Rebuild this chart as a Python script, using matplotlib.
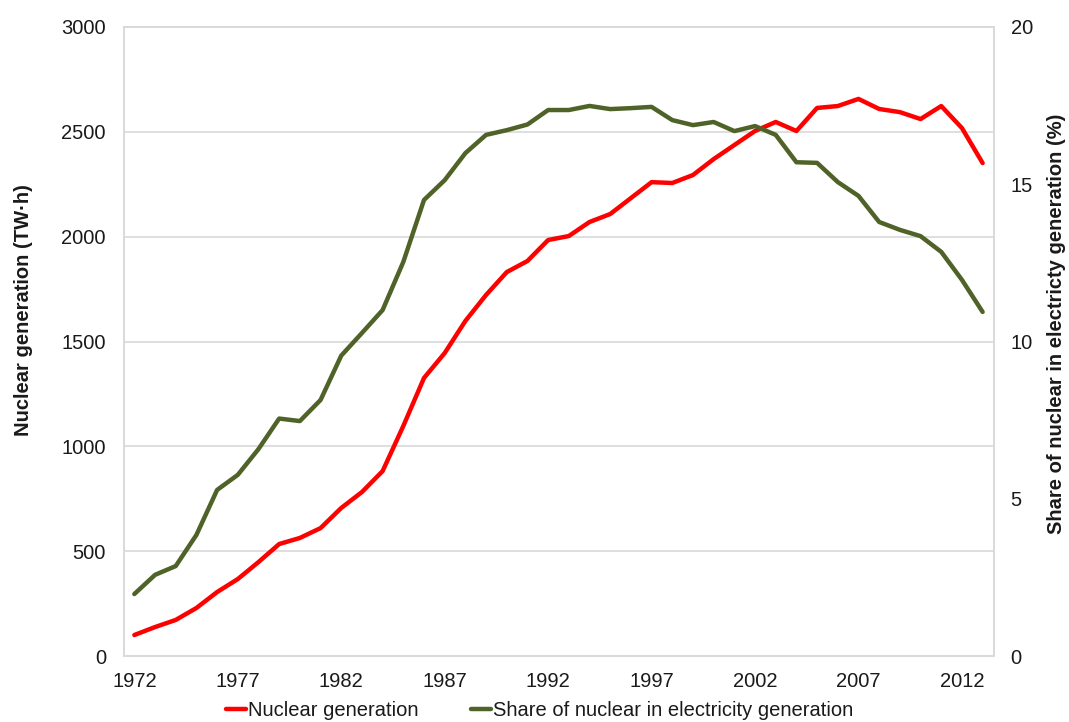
import matplotlib
matplotlib.use("Agg")
import matplotlib.pyplot as plt

plt.rcParams['font.family'] = ['Liberation Sans', 'DejaVu Sans']

# Data
years = list(range(1972, 2014))
generation_twh = [100, 138, 172, 229, 305, 367, 448, 534, 563, 610,
                  706, 782, 882, 1097, 1326, 1445, 1598, 1722, 1831, 1884,
                  1984, 2003, 2070, 2108, 2184, 2260, 2256, 2294, 2370, 2437,
                  2504, 2547, 2504, 2614, 2623, 2657, 2609, 2594, 2561, 2623,
                  2518, 2351]
share_pct = [1.97, 2.58, 2.86, 3.85, 5.28, 5.76, 6.58, 7.55, 7.47, 8.14,
             9.55, 10.27, 11.0, 12.53, 14.5, 15.13, 15.99, 16.57, 16.72, 16.9,
             17.36, 17.36, 17.49, 17.39, 17.42, 17.46, 17.04, 16.88, 16.98, 16.69,
             16.85, 16.57, 15.7, 15.68, 15.07, 14.63, 13.8, 13.55, 13.35, 12.85,
             11.96, 10.94]
xtick_years = list(range(1972, 2013, 5))

RED = '#ff0000'
GREEN = '#4f6228'
GRID = '#d9d9d9'
TXT = '#1a1a1a'

fig = plt.figure(figsize=(10.69, 7.22), dpi=100)
ax = fig.add_axes([124 / 1069, 66 / 722, 870 / 1069, 629 / 722])
ax2 = ax.twinx()

ax.plot(years, generation_twh, color=RED, lw=3.2, solid_joinstyle='round',
        solid_capstyle='round', label='Nuclear generation')
ax2.plot(years, share_pct, color=GREEN, lw=3.2, solid_joinstyle='round',
         solid_capstyle='round', label='Share of nuclear in electricity generation')

ax.set_xlim(1971.5, 2013.55)
ax.set_ylim(0, 3000)
ax2.set_ylim(0, 20)
ax.set_yticks(range(0, 3001, 500))
ax2.set_yticks(range(0, 21, 5))
ax.set_xticks(xtick_years)

ax.grid(axis='y', color=GRID, lw=1.2)
ax.set_axisbelow(True)
for a in (ax, ax2):
    for s in a.spines.values():
        s.set_color(GRID)
        s.set_linewidth(1.2)
    a.tick_params(length=0, labelsize=14.5, colors=TXT)
ax.tick_params(axis='y', pad=13)
ax2.tick_params(axis='y', pad=12)
ax.tick_params(axis='x', pad=11.5)

ax.set_ylabel('Nuclear generation (TW\u00b7h)', fontsize=14.5, fontweight='bold', color=TXT)
ax.yaxis.set_label_coords(-0.105, 0.55)
ax2.set_ylabel('Share of nuclear in electricty generation (%)', fontsize=14.5,
               fontweight='bold', color=TXT)
ax2.yaxis.set_label_coords(1.061, 0.528)

# legend sits at the very bottom edge, like the original
h1, l1 = ax.get_legend_handles_labels()
h2, l2 = ax2.get_legend_handles_labels()
fig.legend(h1 + h2, l1 + l2, loc='lower center', bbox_to_anchor=(0.505, 0.003), ncol=2,
           frameon=False, fontsize=14.5, handlelength=1.0, handletextpad=0.1,
           columnspacing=2.6, labelcolor=TXT, borderpad=0.0, borderaxespad=0.0)

fig.savefig('out.png', dpi=100)
